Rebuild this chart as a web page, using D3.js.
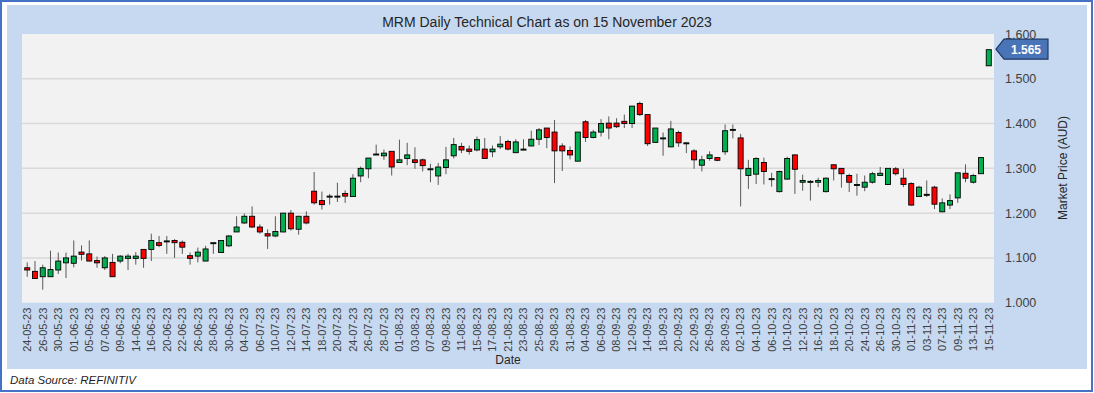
<!DOCTYPE html>
<html>
<head>
<meta charset="utf-8">
<script src="https://cdn.jsdelivr.net/npm/d3@7"></script>
<style>
  html, body { margin: 0; padding: 0; background: #fff; }
  svg { display: block; font-family: "Liberation Sans", Arial, sans-serif; }
</style>
</head>
<body>
<div id="chart"></div>
<script>
// trading days, 24 May - 15 Nov 2023
var dates = [
  "24-05-23","25-05-23","26-05-23","29-05-23","30-05-23","31-05-23",
  "01-06-23","02-06-23","05-06-23","06-06-23","07-06-23","08-06-23","09-06-23","13-06-23","14-06-23","15-06-23","16-06-23",
  "19-06-23","20-06-23","21-06-23","22-06-23","23-06-23","26-06-23","27-06-23","28-06-23","29-06-23","30-06-23",
  "03-07-23","04-07-23","05-07-23","06-07-23","07-07-23","10-07-23","11-07-23","12-07-23","13-07-23","14-07-23",
  "17-07-23","18-07-23","19-07-23","20-07-23","21-07-23","24-07-23","25-07-23","26-07-23","27-07-23","28-07-23","31-07-23",
  "01-08-23","02-08-23","03-08-23","04-08-23","07-08-23","08-08-23","09-08-23","10-08-23","11-08-23","14-08-23","15-08-23",
  "16-08-23","17-08-23","18-08-23","21-08-23","22-08-23","23-08-23","24-08-23","25-08-23","28-08-23","29-08-23","30-08-23","31-08-23",
  "01-09-23","04-09-23","05-09-23","06-09-23","07-09-23","08-09-23","11-09-23","12-09-23","13-09-23","14-09-23","15-09-23",
  "18-09-23","19-09-23","20-09-23","21-09-23","22-09-23","25-09-23","26-09-23","27-09-23","28-09-23","29-09-23",
  "02-10-23","03-10-23","04-10-23","05-10-23","06-10-23","09-10-23","10-10-23","11-10-23","12-10-23","13-10-23",
  "16-10-23","17-10-23","18-10-23","19-10-23","20-10-23","23-10-23","24-10-23","25-10-23","26-10-23","27-10-23","30-10-23","31-10-23",
  "01-11-23","02-11-23","03-11-23","06-11-23","07-11-23","08-11-23","09-11-23","10-11-23","13-11-23","14-11-23","15-11-23"
];

var open = [
  1.078,1.070,1.058,1.058,1.073,1.089,1.088,1.113,1.109,1.094,1.078,1.090,1.093,1.099,1.099,1.119,1.119,1.134,1.138,1.139,
  1.135,1.105,1.104,1.093,1.134,1.112,1.127,1.158,1.178,1.193,1.169,1.154,1.149,1.158,1.200,1.164,1.193,1.249,1.228,1.238,
  1.238,1.244,1.237,1.283,1.299,1.332,1.328,1.338,1.313,1.322,1.319,1.319,1.299,1.283,1.302,1.328,1.349,1.343,1.341,1.343,
  1.337,1.348,1.360,1.335,1.343,1.350,1.365,1.390,1.381,1.350,1.340,1.316,1.404,1.369,1.381,1.401,1.401,1.405,1.400,1.445,
  1.420,1.358,1.368,1.348,1.380,1.357,1.339,1.307,1.322,1.324,1.337,1.387,1.368,1.284,1.287,1.313,1.277,1.248,1.276,1.330,
  1.269,1.271,1.269,1.248,1.308,1.300,1.284,1.264,1.258,1.269,1.284,1.264,1.299,1.278,1.266,1.237,1.242,1.258,1.203,1.218,
  1.234,1.289,1.269,1.288,1.529
];
var high = [
  1.090,1.093,1.085,1.116,1.112,1.112,1.139,1.128,1.139,1.103,1.104,1.109,1.106,1.109,1.113,1.119,1.154,1.149,1.149,1.142,
  1.139,1.112,1.123,1.127,1.134,1.140,1.151,1.193,1.199,1.215,1.175,1.164,1.193,1.200,1.207,1.194,1.204,1.292,1.248,1.243,
  1.268,1.251,1.287,1.304,1.323,1.353,1.342,1.338,1.364,1.357,1.347,1.322,1.310,1.312,1.348,1.368,1.357,1.351,1.371,1.368,
  1.351,1.372,1.364,1.365,1.365,1.384,1.390,1.390,1.408,1.356,1.349,1.381,1.408,1.386,1.410,1.416,1.412,1.420,1.439,1.449,
  1.420,1.390,1.380,1.406,1.384,1.357,1.343,1.328,1.338,1.325,1.398,1.398,1.377,1.319,1.325,1.324,1.290,1.295,1.326,1.331,
  1.286,1.274,1.279,1.280,1.308,1.300,1.288,1.288,1.284,1.292,1.303,1.300,1.303,1.299,1.269,1.261,1.273,1.261,1.233,1.242,
  1.290,1.309,1.288,1.324,1.565
];
var low = [
  1.058,1.054,1.029,1.058,1.064,1.055,1.079,1.094,1.092,1.078,1.073,1.058,1.088,1.073,1.085,1.078,1.093,1.124,1.109,1.100,
  1.109,1.085,1.090,1.093,1.109,1.112,1.124,1.158,1.176,1.167,1.154,1.120,1.146,1.157,1.161,1.152,1.175,1.219,1.208,1.219,
  1.225,1.223,1.237,1.269,1.278,1.330,1.319,1.284,1.313,1.307,1.299,1.293,1.269,1.263,1.287,1.322,1.334,1.331,1.338,1.322,
  1.325,1.343,1.340,1.334,1.341,1.349,1.352,1.345,1.267,1.294,1.320,1.316,1.359,1.367,1.371,1.365,1.390,1.390,1.390,1.417,
  1.350,1.358,1.328,1.347,1.348,1.334,1.299,1.293,1.317,1.316,1.330,1.367,1.215,1.254,1.265,1.264,1.259,1.246,1.275,1.243,
  1.250,1.228,1.258,1.246,1.273,1.257,1.247,1.239,1.249,1.266,1.284,1.264,1.284,1.258,1.217,1.236,1.236,1.209,1.202,1.209,
  1.223,1.269,1.266,1.288,1.529
];
var close = [
  1.073,1.054,1.078,1.074,1.093,1.100,1.104,1.108,1.093,1.089,1.100,1.058,1.104,1.104,1.104,1.099,1.139,1.128,1.138,1.134,
  1.124,1.099,1.113,1.120,1.134,1.139,1.149,1.169,1.193,1.169,1.158,1.149,1.159,1.200,1.165,1.193,1.178,1.223,1.219,1.238,
  1.238,1.238,1.278,1.300,1.323,1.332,1.334,1.303,1.319,1.330,1.313,1.306,1.299,1.303,1.319,1.353,1.341,1.338,1.364,1.322,
  1.343,1.354,1.343,1.359,1.343,1.365,1.386,1.369,1.339,1.339,1.330,1.381,1.369,1.381,1.400,1.390,1.393,1.400,1.439,1.420,
  1.355,1.390,1.368,1.388,1.357,1.357,1.319,1.319,1.330,1.318,1.384,1.387,1.299,1.300,1.322,1.293,1.277,1.293,1.322,1.298,
  1.273,1.271,1.273,1.278,1.299,1.288,1.269,1.264,1.269,1.288,1.289,1.300,1.288,1.264,1.218,1.258,1.242,1.220,1.223,1.228,
  1.290,1.278,1.284,1.324,1.565
];

var priceTicks = [1.0, 1.1, 1.2, 1.3, 1.4, 1.5, 1.6];
var dateTicks = dates.filter(function(d, i) { return i % 2 === 0; });

var W = 1094, H = 393;
var plot = {left: 22, right: 994, top: 34, bottom: 302.7};

var svg = d3.select("#chart").append("svg").attr("width", W).attr("height", H);

// outer frame
svg.append("rect").attr("x", 1).attr("y", 1).attr("width", W - 3).attr("height", H - 3)
  .attr("fill", "#fff").attr("stroke", "#4472C4").attr("stroke-width", 2);
svg.append("rect").attr("x", 7).attr("y", 5).attr("width", 1080).attr("height", 364)
  .attr("fill", "#C6D9F0");
svg.append("rect").attr("x", plot.left).attr("y", plot.top)
  .attr("width", plot.right - plot.left).attr("height", plot.bottom - plot.top)
  .attr("fill", "#F2F2F2");

var x = d3.scaleBand().domain(dates).range([plot.left, plot.right]).padding(0.35);
var y = d3.scaleLinear().domain([1.0, 1.6]).range([plot.bottom, plot.top]);

// grid
svg.append("g").selectAll("line").data(priceTicks.slice(1, -1)).enter().append("line")
  .attr("x1", plot.left).attr("x2", plot.right)
  .attr("y1", function(d) { return y(d); }).attr("y2", function(d) { return y(d); })
  .attr("stroke", "#D9D9D9").attr("stroke-width", 1.5);

// axes
var yAxis = svg.append("g").attr("transform", "translate(" + plot.right + ",0)")
  .call(d3.axisRight(y).tickValues(priceTicks).tickFormat(d3.format(".3f")).tickSize(0).tickPadding(11));
yAxis.select(".domain").remove();
yAxis.selectAll("text").attr("font-size", 12.5).attr("fill", "#404040").attr("font-family", "Liberation Sans, Arial");

var xAxis = svg.append("g").attr("transform", "translate(0," + plot.bottom + ")")
  .call(d3.axisBottom(x).tickValues(dateTicks).tickSize(0));
xAxis.select(".domain").remove();
xAxis.selectAll("text")
  .attr("transform", "rotate(-90)")
  .attr("x", -5).attr("y", 0).attr("dy", "0.35em")
  .attr("text-anchor", "end")
  .attr("font-size", 11).attr("fill", "#404040").attr("font-family", "Liberation Sans, Arial");

// candles
var candles = dates.map(function(d, i) {
  return {date: d, o: open[i], h: high[i], l: low[i], c: close[i]};
});
var cx = function(d) { return x(d.date) + x.bandwidth() / 2; };

var g = svg.append("g");
g.selectAll("line.wick").data(candles).enter().append("line").attr("class", "wick")
  .attr("x1", cx).attr("x2", cx)
  .attr("y1", function(d) { return y(d.h); }).attr("y2", function(d) { return y(d.l); })
  .attr("stroke", "#595959").attr("stroke-width", 1);
g.selectAll("rect.body").data(candles).enter().append("rect").attr("class", "body")
  .attr("x", function(d) { return x(d.date); })
  .attr("width", x.bandwidth())
  .attr("y", function(d) { return y(Math.max(d.o, d.c)); })
  .attr("height", function(d) { return Math.max(1, Math.abs(y(d.o) - y(d.c))); })
  .attr("fill", function(d) { return d.c >= d.o ? "#00B050" : "#FF0000"; })
  .attr("stroke", "#000").attr("stroke-width", 0.9);

// last price callout
var last = candles[candles.length - 1];
var ly = y(last.c) - 0.5;
svg.append("path")
  .attr("d", "M" + (plot.right + 2) + "," + ly + " L" + (plot.right + 10) + "," + (ly - 10) +
    " L" + (plot.right + 54) + "," + (ly - 10) + " L" + (plot.right + 54) + "," + (ly + 10) +
    " L" + (plot.right + 10) + "," + (ly + 10) + " Z")
  .attr("fill", "#4A74B8").attr("stroke", "#1F3864").attr("stroke-width", 1.2);
svg.append("text").attr("x", plot.right + 32).attr("y", ly + 4.5)
  .attr("text-anchor", "middle").attr("font-size", 12).attr("font-weight", "bold")
  .attr("fill", "#fff").text(d3.format(".3f")(last.c));

// titles
svg.append("text").attr("x", 547).attr("y", 27).attr("text-anchor", "middle")
  .attr("font-size", 14).attr("fill", "#262626")
  .text("MRM Daily Technical Chart as on 15 November 2023");
svg.append("text").attr("x", 508).attr("y", 364).attr("text-anchor", "middle")
  .attr("font-size", 12).attr("fill", "#262626").text("Date");
svg.append("text").attr("transform", "translate(1067,168) rotate(-90)")
  .attr("text-anchor", "middle").attr("font-size", 12).attr("fill", "#262626")
  .text("Market Price (AUD)");
svg.append("text").attr("x", 10).attr("y", 384).attr("font-size", 11.5)
  .attr("font-style", "italic").attr("fill", "#1F1F1F").text("Data Source: REFINITIV");
</script>
</body>
</html>
